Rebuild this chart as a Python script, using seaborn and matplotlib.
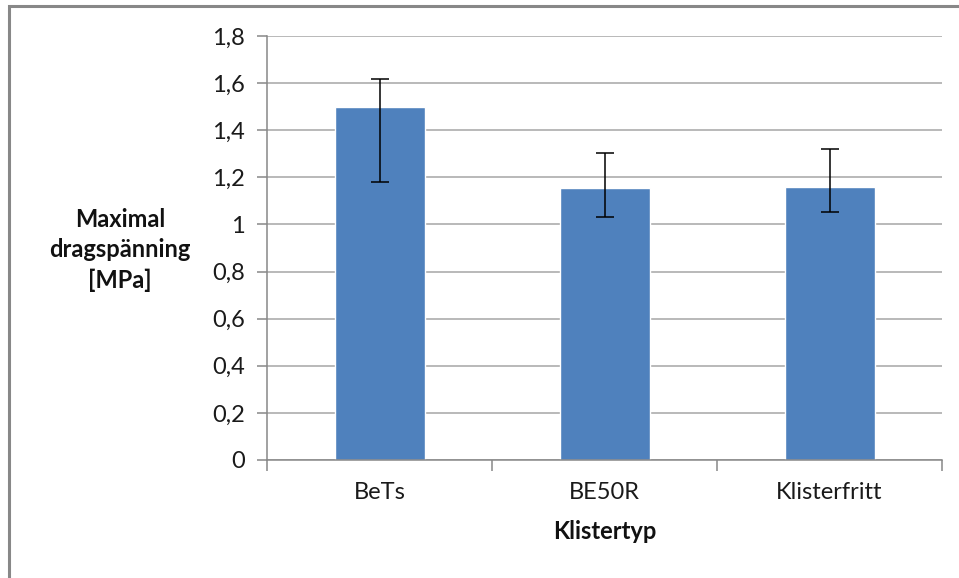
"""Maximal dragspänning per klistertyp, bars with asymmetric error bars."""
import numpy as np
import pandas as pd
import seaborn as sns
import matplotlib.pyplot as plt
from matplotlib.patches import Rectangle
from matplotlib.ticker import FuncFormatter

categories = ['BeTs', 'BE50R', 'Klisterfritt']
means = [1.50, 1.153, 1.157]
err_low = [0.318, 0.123, 0.103]
err_high = [0.119, 0.150, 0.162]

sns.set_style('white')
plt.rcParams['font.family'] = ['Lato', 'DejaVu Sans']

df = pd.DataFrame({'Klistertyp': categories, 'value': means})

fig = plt.figure(figsize=(9.59, 5.78), dpi=100)
ax = fig.add_axes([267 / 959, 1 - 460 / 578, 675 / 959, 424 / 578])

sns.barplot(data=df, x='Klistertyp', y='value', color='#4F81BD', saturation=1,
            width=0.4, ax=ax, errorbar=None)
ax.errorbar(np.arange(len(categories)), means, yerr=[err_low, err_high], fmt='none',
            ecolor='black', elinewidth=1.1, capsize=6.5, capthick=1.1)

ax.set_xlim(-0.5, 2.5)
ax.set_ylim(0, 1.8)
ax.set_yticks(np.arange(0, 1.81, 0.2))
ax.yaxis.set_major_formatter(FuncFormatter(lambda v, p: ('%g' % round(v, 1)).replace('.', ',')))
ax.yaxis.grid(True, color='#a6a6a6', linewidth=1.1)
ax.set_axisbelow(True)

for side in ['top', 'right']:
    ax.spines[side].set_visible(False)
for side in ['left', 'bottom']:
    ax.spines[side].set_color('#888888')
    ax.spines[side].set_linewidth(1.1)

# category ticks sit between the bars, labels centred under them
ax.set_xticks([-0.5, 0.5, 1.5, 2.5])
ax.set_xticklabels([])
ax.set_xticks(range(len(categories)), minor=True)
ax.set_xticklabels(categories, minor=True)
ax.tick_params(axis='x', which='major', direction='out', length=8, color='#888888', width=1.1)
ax.tick_params(axis='x', which='minor', length=0, pad=16, labelsize=17, labelcolor='#1a1a1a')
ax.tick_params(axis='y', direction='out', length=7, color='#888888', width=1.1,
               labelsize=17, pad=9, labelcolor='#1a1a1a')
ax.tick_params(left=True, bottom=True)

ax.set_xlabel('Klistertyp', fontsize=17, fontweight='bold', labelpad=12, color='#111111')
ax.set_ylabel('')
fig.text(120 / 959, 1 - 250 / 578, 'Maximal\ndragspänning\n[MPa]', ha='center', va='center',
         multialignment='center', fontsize=17, fontweight='bold', linespacing=1.4,
         color='#111111')

# outer frame of the chart area
fig.patches.append(Rectangle((9 / 959, -0.1), 1.2, 1 - 6 / 578 + 0.1, transform=fig.transFigure,
                             fill=False, edgecolor='#888888', linewidth=2.2))

fig.savefig('out.png', dpi=100)
